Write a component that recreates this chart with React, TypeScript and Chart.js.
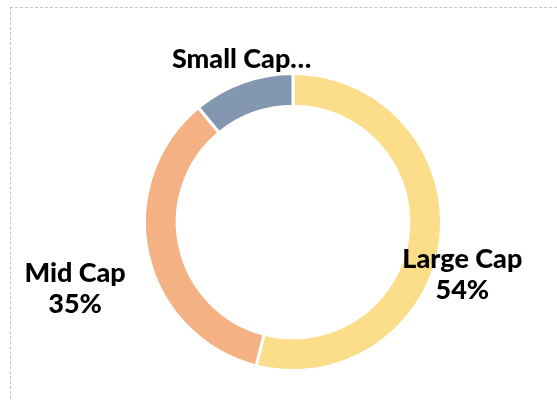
import React, { useEffect, useRef } from "react";
import { Chart, registerables } from "chart.js";

Chart.register(...registerables);

const categories = ["Large Cap", "Mid Cap", "Small Cap"];
const shares = [54, 35, 11];
const labelLines = [["Large Cap", "54%"], ["Mid Cap", "35%"], ["Small Cap…"]];
const colors = ["#FBDD8A", "#F4B183", "#8497B0"];
const labelNudges = [
  { dx: 22, dy: 34 },
  { dx: -73, dy: 34 },
  { dx: -1, dy: -23 },
];

const labelPlugin = {
  id: "outsideLabels",
  afterDraw(chart: any) {
    const ctx = chart.ctx;
    const meta = chart.getDatasetMeta(0);
    ctx.save();
    ctx.fillStyle = "#000";
    ctx.font = "900 27px Lato";
    ctx.textAlign = "center";
    ctx.textBaseline = "middle";
    meta.data.forEach((arc: any, i: number) => {
      const { x, y, startAngle, endAngle, outerRadius } = arc.getProps(
        ["x", "y", "startAngle", "endAngle", "outerRadius"],
        true
      );
      const mid = (startAngle + endAngle) / 2;
      const px = x + Math.cos(mid) * outerRadius + labelNudges[i].dx;
      const py = y + Math.sin(mid) * outerRadius + labelNudges[i].dy;
      const lines = labelLines[i];
      const lh = 31;
      lines.forEach((ln, k) => {
        ctx.fillText(ln, px, py + (k - (lines.length - 1) / 2) * lh);
      });
    });
    ctx.restore();
  },
};

export default function App() {
  const ref = useRef<HTMLCanvasElement>(null);
  useEffect(() => {
    if (!ref.current) return;
    const chart = new Chart(ref.current, {
      type: "doughnut",
      data: {
        labels: categories,
        datasets: [
          {
            data: shares,
            backgroundColor: colors,
            borderColor: "#ffffff",
            borderWidth: 3,
          },
        ],
      },
      options: {
        animation: false,
        responsive: false,
        maintainAspectRatio: false,
        cutout: "78%",
        layout: { padding: { left: 143, right: 114, top: 72, bottom: 28 } },
        plugins: {
          legend: { display: false },
          tooltip: { enabled: false },
        },
      },
      plugins: [labelPlugin],
    });
    return () => chart.destroy();
  }, []);
  return (
    <div style={{ position: "fixed", left: 0, top: 0, width: 557, height: 400, background: "#fff" }}>
      <div
        style={{
          position: "absolute",
          left: 10,
          top: 7,
          width: 600,
          height: 450,
          border: "1px dashed #b9c6d8",
        }}
      />
      <canvas ref={ref} width={557} height={400} style={{ position: "absolute", left: 0, top: 0 }} />
    </div>
  );
}
